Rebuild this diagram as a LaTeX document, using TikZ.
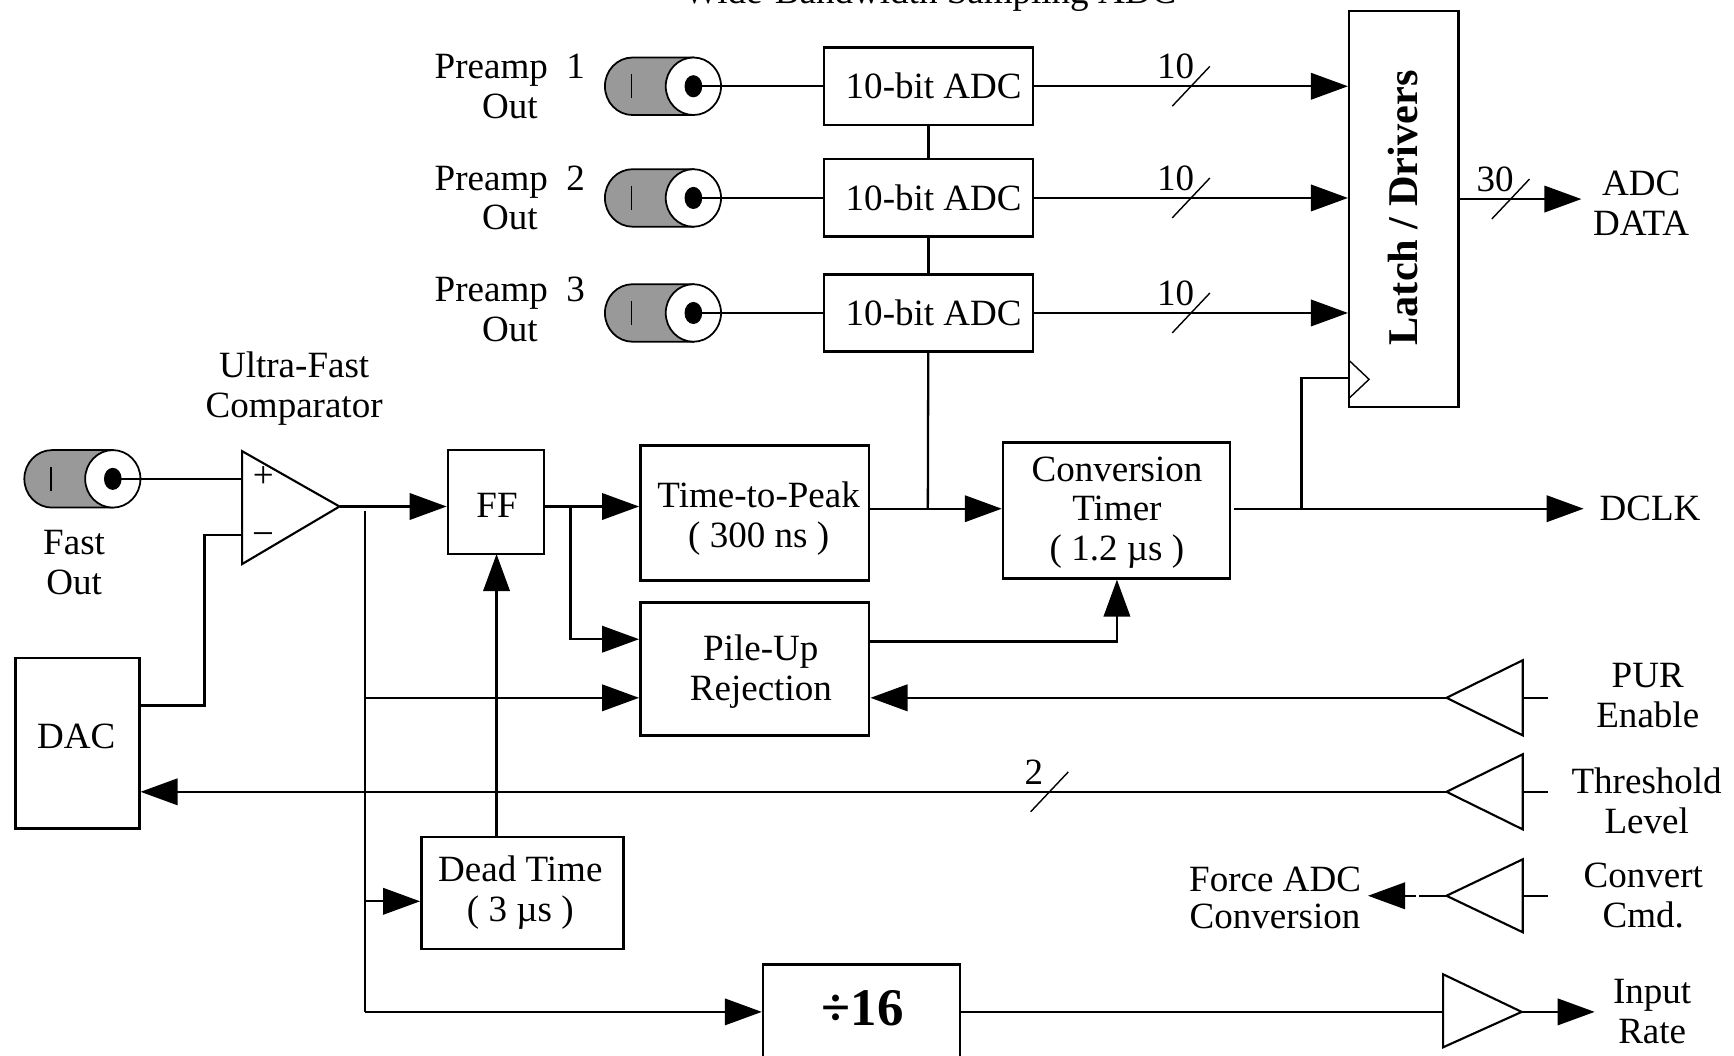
\documentclass[tikz,border=0pt]{standalone}
\usepackage{fontspec}
\setmainfont{Liberation Serif}
\usetikzlibrary{arrows.meta}

\def\u{0.3135pt}
\newcommand{\busmark}[4]{%
  \draw[buswire] (#2,#3) +(-17,18) -- +(17,-18);
  \node[lbl] (#1) at (#2-14,#3-18) {#4};
}

\tikzset{
  lbl/.style={font=\fontsize{10.5}{11.3}\selectfont, align=center, inner sep=0pt},
  blockbox/.style 2 args={draw, line width=0.7pt, lbl, minimum width=#1*\u, minimum height=#2*\u},
  wire/.style={line width=0.65pt},
  sig/.style={wire, -{Stealth[length=10.5pt, width=7.5pt, inset=0pt]}},
  buswire/.style={line width=0.4pt},
  buffer/.style={line width=0.6pt, line join=miter},
  coax/.pic={
    \filldraw[fill=coaxgray, line width=0.5pt] (-55,-26) arc[start angle=90, end angle=270, x radius=25*\u, y radius=26*\u] -- (0,26) -- (0,-26) -- cycle;
    \filldraw[fill=white, line width=0.5pt] (0,0) ellipse[x radius=25*\u, y radius=26*\u];
    \fill (0,0) ellipse[x radius=8*\u, y radius=10*\u];
    \draw[line width=0.5pt] (-56,-11) -- (-56,11);
  }
}
\definecolor{coaxgray}{gray}{0.6}

\begin{document}
\begin{tikzpicture}[x=\u, y=-\u]
  \useasboundingbox (0,0) rectangle (1568,954);

  % Title, cut by the top edge
  \node[lbl, anchor=base] (title) at (841,3) {Wide-Bandwidth Sampling ADC};

  % Preamp channels
  \node[blockbox={99}{358}] (latch) at (1269.5,189) {};
  \node[lbl, font=\fontsize{12}{14}\selectfont\bfseries, rotate=90] (latchtext) at (1269,188) {Latch / Drivers};
  \foreach \nm/\y/\ly/\n in {A/78/78/1, B/179/179/2, C/283/280/3} {
    \node[blockbox={189}{70}] (adc\nm) at (839.5,\y) {\hspace{3pt}10-bit ADC};
    \coordinate (coax\nm) at (627,\y);
    \pic at (coax\nm) {coax};
    \node[lbl] (pre\nm) at (461,\ly) {Preamp\ \ \n\\Out};
    \draw[wire] (coax\nm) -- (adc\nm);
    \draw[sig] (adc\nm) -- (adc\nm -| latch.west);
    \busmark{bus\nm}{1077}{\y}{10}
  }
  \draw[wire] (adcA) -- (adcB);
  \draw[wire] (adcB) -- (adcC);

  % Latch outputs and clock
  \coordinate (adcdata) at (1430,180);
  \node[lbl] (adcdatatext) at (1484,184) {ADC\\DATA};
  \draw[sig] (latch.east |- adcdata) -- (adcdata);
  \busmark{busD}{1366}{180}{30}
  \draw[buswire] (1220,326) -- (1238,343) -- (1220,360);

  % Comparator
  \coordinate (coaxF) at (102,433);
  \pic at (coaxF) {coax};
  \node[lbl] (fasttext) at (67,509) {Fast\\Out};
  \node[lbl] (comptext) at (266,351) {Ultra-Fast\\Comparator};
  \coordinate (compP) at (219,433);
  \coordinate (compM) at (219,484);
  \coordinate (compO) at (307,458);
  \draw[buffer] (219,408) -- (219,510) -- (compO) -- cycle;
  \node[lbl] (plus) at (238,431) {+};
  \node[lbl] (minus) at (238,488) {\fontsize{11}{11}\selectfont −};
  \draw[wire] (coaxF) -- (compP);

  % Main blocks
  \node[blockbox={112}{154}] (dac) at (70,672) {};
  \node[lbl] (dactext) at (69,666) {DAC};
  \node[blockbox={87}{94}] (ff) at (448.5,454) {};
  \node[lbl] (fftext) at (449.5,457) {FF};
  \node[blockbox={207}{122}] (ttp) at (682.5,464) {};
  \node[lbl] (ttptext) at (686,469) {Time-to-Peak\\( 300 ns )};
  \node[blockbox={205}{123}] (timer) at (1009.5,461.5) {};
  \node[lbl] (timertext) at (1010,463.5) {Conversion\\Timer\\( 1.2 µs )};
  \node[blockbox={207}{120}] (pileup) at (682.5,605) {};
  \node[lbl] (pileuptext) at (688,607) {Pile-Up\\Rejection};
  \node[blockbox={183}{101}] (dead) at (472.5,807.5) {};
  \node[lbl] (deadtext) at (470.5,807.5) {Dead Time\\( 3 µs )};
  \node[blockbox={178}{90}] (div) at (779,917) {};
  \node[lbl, font=\fontsize{15}{15}\selectfont\bfseries] (divtext) at (780,912) {÷16};

  % Signal path
  \draw[wire] (dac.east |- 0,638) -- (185,638) -- (185,484) -- (compM);
  \draw[sig] (compO) -- (compO -| ff.west);
  \draw[sig] (ff.east |- compO) -- (compO -| ttp.west);
  \coordinate (tap) at (516,458);
  \draw[sig] (tap) -- (516,578) -- (pileup.west |- 0,578);
  \coordinate (fanout) at (330,462);
  \draw[wire] (fanout) -- (330,915);
  \draw[sig] (330,631) -- (pileup.west |- 0,631);
  \draw[sig] (330,815) -- (dead.west |- 0,815);
  \draw[sig] (330,915) -- (div.west |- 0,915);
  \draw[sig] (449,757) -- (449,501);
  \draw[sig] (ttp.east |- 0,460) -- (timer.west |- 0,460);
  \draw[wire] (adcC) -- (839,460);
  \coordinate (dclk) at (1432,460);
  \node[lbl] (dclktext) at (1492,460) {DCLK};
  \draw[sig] (1116,460) -- (dclk);
  \draw[wire] (1177,460) -- (1177,342) -- (latch.west |- 0,342);
  \draw[sig] (pileup.east |- 0,580) -- (1010,580) -- (timer.south -| 1010,0);

  % Input buffers
  \foreach \nm/\y/\h in {pur/631/34, thr/716/34, cnv/810/33} {
    \coordinate (\nm) at (1308,\y);
    \draw[buffer] (\nm) -- (1377,\y-\h) -- (1377,\y+\h) -- cycle;
    \draw[wire] (1377,\y) -- (1400,\y);
  }
  \node[lbl] (purtext) at (1490,629) {PUR\\Enable};
  \node[lbl] (thrtext) at (1489,724) {Threshold\\Level};
  \node[lbl] (cnvtext) at (1486,810) {Convert\\Cmd.};
  \draw[sig] (pur) -- (pileup.east |- pur);
  \draw[sig] (thr) -- (dac.east |- thr);
  \busmark{busT}{949}{716}{2}
  \coordinate (cnvgap) at (1283,810);
  \coordinate (force) at (1237,810);
  \draw[wire] (cnv) -- (cnvgap);
  \draw[sig] (1280,810) -- (force);
  \node[lbl, font=\fontsize{10.5}{10.7}\selectfont] (forcetext) at (1153,812) {Force ADC\\Conversion};

  % Input rate output
  \coordinate (rateIn) at (1305,915);
  \coordinate (rateOut) at (1376,915);
  \draw[buffer] (1305,881) -- (1305,947) -- (rateOut) -- cycle;
  \draw[wire] (div.east |- rateIn) -- (rateIn);
  \draw[sig] (rateOut) -- (1442,915);
  \node[lbl] (ratetext) at (1494,915) {Input\\Rate};
\end{tikzpicture}
\end{document}
